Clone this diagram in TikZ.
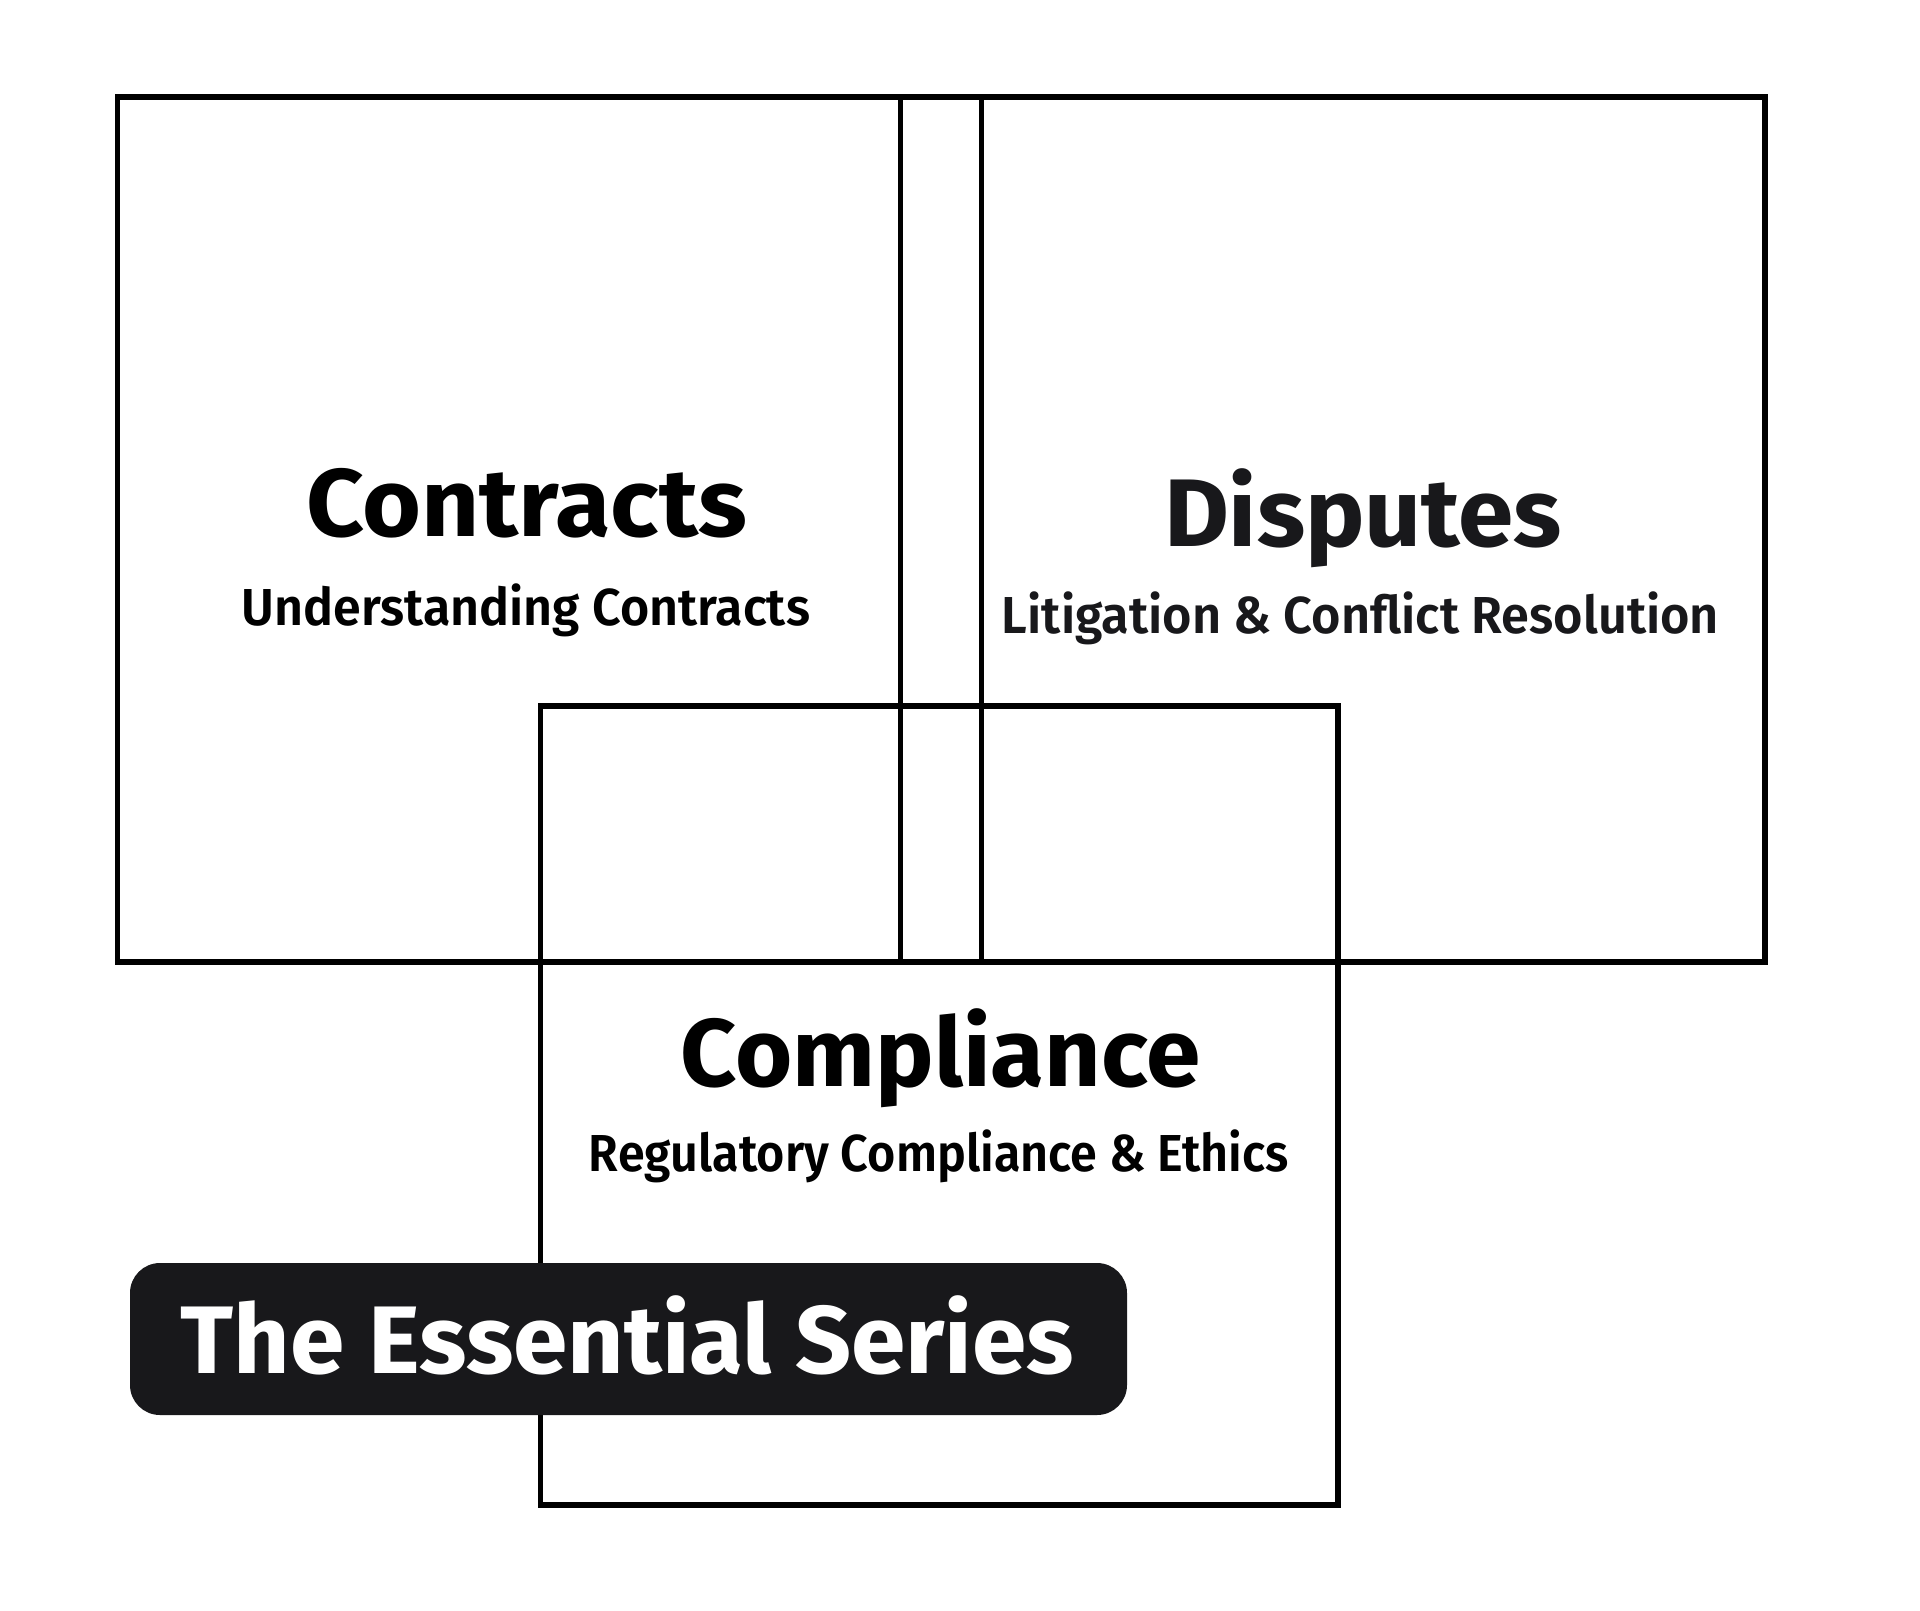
\documentclass[tikz,border=0pt]{standalone}
\usepackage{fontspec}
\setmainfont{Fira Sans}
\IfFontExistsTF{Fira Sans SemiBold}
  {\newfontfamily\subfont{Fira Sans SemiBold}}
  {\newcommand\subfont{\bfseries}}
\usepackage{graphicx}
\definecolor{inkdark}{HTML}{18181B}
\begin{document}
\begin{tikzpicture}[x=1pt,y=-1pt,
  frame/.style={draw=black, line width=5.5pt, inner sep=0pt, outer sep=0pt, fill=none},
  title/.style={anchor=base, inner sep=0pt, font=\fontsize{96}{96}\selectfont\bfseries},
  subtitle/.style={anchor=base, inner sep=0pt, font=\fontsize{52}{52}\selectfont\subfont},
  badge/.style={fill=inkdark, rounded corners=30pt, inner sep=0pt, outer sep=0pt}]
\useasboundingbox (0,0) rectangle (1920,1610);
\fill[white] (0,0) rectangle (1920,1610);
% frames
\node[frame, minimum width=864pt, minimum height=865pt] (contractsbox) at (549.5,529.5) {};
\node[frame, minimum width=864.5pt, minimum height=865pt] (disputesbox) at (1332.75,529.5) {};
\node[frame, minimum width=797.5pt, minimum height=799pt] (compliancebox) at (939.25,1105.5) {};
% badge
\node[badge, minimum width=997pt, minimum height=152pt] (badgebox) at (628.5,1339) {};
% texts
\node[title, text=black] (contracts) at (526.5,536) {\resizebox{441pt}{\height}{Contracts}};
\node[subtitle, text=black] (contractssub) at (526,625) {\resizebox{568pt}{\height}{Understanding Contracts}};
\node[title, text=inkdark] (disputes) at (1363,546) {\resizebox{398pt}{\height}{Disputes}};
\node[subtitle, text=inkdark] (disputessub) at (1360.5,633) {\resizebox{717pt}{\height}{Litigation \& Conflict Resolution}};
\node[title, text=black] (compliance) at (940.6,1086) {\resizebox{520pt}{\height}{Compliance}};
\node[subtitle, text=black] (compliancesub) at (939,1171) {\resizebox{700pt}{\height}{Regulatory Compliance \& Ethics}};
\node[title, text=white] (series) at (627.5,1373) {\resizebox{893pt}{\height}{The Essential Series}};
\end{tikzpicture}
\end{document}
